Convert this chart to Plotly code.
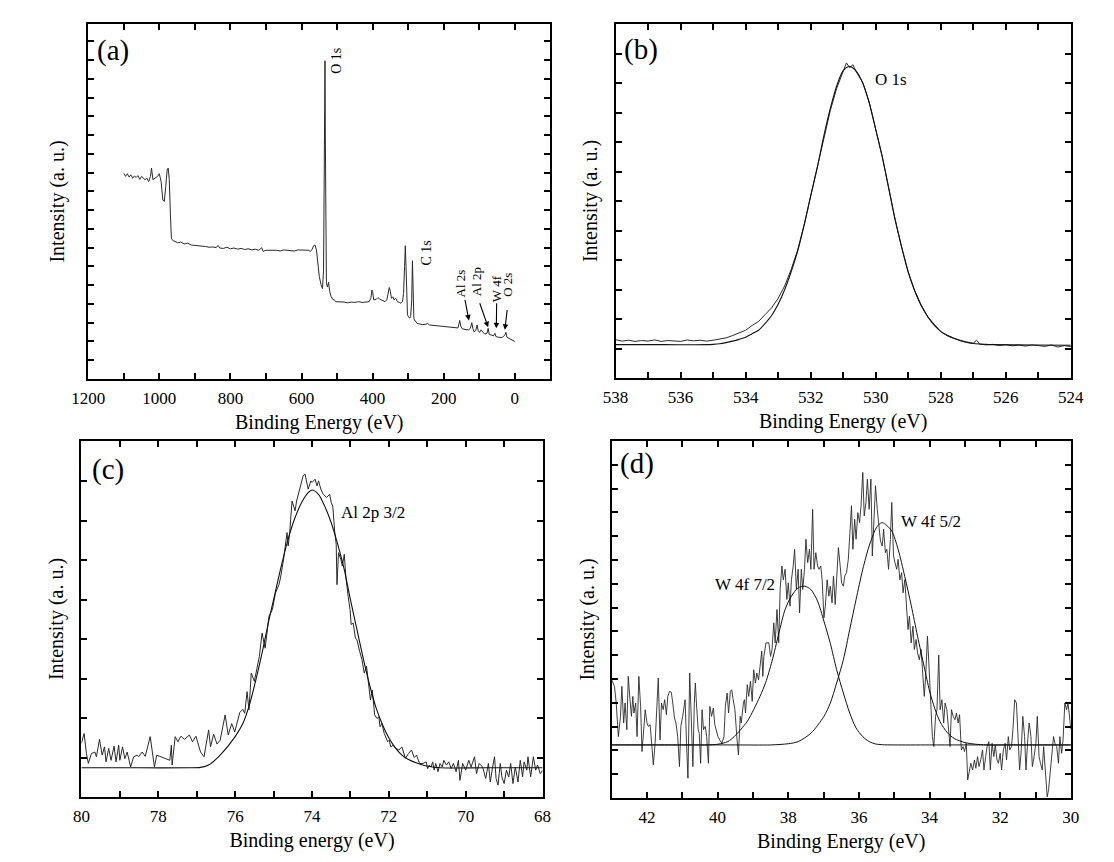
import plotly.graph_objects as go

FONT = "Liberation Serif"

# ---------------- (a) survey spectrum ----------------
a_energy = [1100, 1095, 1090, 1085, 1080, 1075, 1070, 1065, 1060, 1055,
            1050, 1045, 1040, 1035, 1030, 1025, 1022, 1018, 1012, 1005,
            1000, 995, 990, 986, 982, 978, 975, 972, 969, 966,
            962, 955, 948, 940, 930, 920, 910, 900, 890, 880,
            870, 860, 850, 840, 835, 830, 820, 810, 800, 790,
            780, 770, 760, 750, 740, 730, 720, 712, 708, 700,
            690, 680, 670, 660, 650, 640, 630, 620, 610, 600,
            590, 580, 575, 570, 566, 562, 558, 554, 550, 545,
            541, 538, 536, 535, 534, 533, 532, 530, 527, 524,
            521, 517, 512, 508, 504, 500, 490, 480, 470, 460,
            450, 440, 430, 420, 410, 405, 402, 400, 397, 390,
            385, 380, 375, 370, 365, 360, 356, 353, 350, 347,
            343, 340, 335, 330, 325, 320, 316, 313, 310, 308,
            306, 304, 302, 299, 296, 293, 290, 288, 286, 284,
            281, 278, 275, 270, 260, 250, 245, 240, 230, 220,
            210, 200, 190, 180, 170, 160, 157, 155, 152, 148,
            140, 130, 125, 121, 118, 115, 110, 106, 103, 99,
            95, 90, 85, 78, 75, 72, 65, 60, 56, 53,
            45, 35, 28, 25, 22, 15, 8, 3, 0]
a_intensity = [5.48, 5.40, 5.47, 5.38, 5.44, 5.35, 5.41, 5.37, 5.42, 5.32,
               5.40, 5.34, 5.31, 5.35, 5.26, 5.40, 5.62, 5.31, 5.35, 5.40,
               5.47, 5.26, 4.77, 4.73, 5.13, 5.57, 5.62, 5.31, 4.42, 3.75,
               3.69, 3.66, 3.63, 3.65, 3.60, 3.62, 3.57, 3.56, 3.55, 3.55,
               3.53, 3.51, 3.52, 3.50, 3.56, 3.49, 3.48, 3.51, 3.47, 3.49,
               3.46, 3.48, 3.45, 3.47, 3.44, 3.46, 3.43, 3.50, 3.40, 3.43,
               3.44, 3.43, 3.43, 3.41, 3.44, 3.43, 3.43, 3.41, 3.44, 3.43,
               3.44, 3.43, 3.40, 3.46, 3.55, 3.57, 3.44, 3.08, 2.73, 2.51,
               2.41, 2.90, 5.70, 7.90, 8.48, 6.50, 3.50, 2.55, 2.45, 2.58,
               2.35, 2.20, 2.12, 2.11, 2.06, 2.06, 2.04, 2.05, 2.03, 2.05,
               2.04, 2.06, 2.04, 2.05, 2.06, 2.15, 2.37, 2.33, 2.11, 2.12,
               2.17, 2.13, 2.11, 2.08, 2.06, 2.11, 2.28, 2.44, 2.33, 2.15,
               2.19, 2.11, 2.15, 2.06, 2.04, 2.02, 2.06, 2.28, 3.00, 3.55,
               3.00, 1.93, 1.71, 1.66, 1.62, 1.66, 2.11, 3.15, 2.55, 1.62,
               1.55, 1.53, 1.48, 1.47, 1.45, 1.46, 1.48, 1.44, 1.43, 1.42,
               1.41, 1.40, 1.39, 1.38, 1.37, 1.36, 1.47, 1.56, 1.41, 1.34,
               1.32, 1.31, 1.35, 1.50, 1.35, 1.26, 1.29, 1.44, 1.29, 1.24,
               1.31, 1.26, 1.20, 1.22, 1.35, 1.19, 1.17, 1.15, 1.22, 1.13,
               1.11, 1.11, 1.17, 1.24, 1.11, 1.08, 1.04, 1.02, 1.00]

a_labels = ["O 1s", "C 1s", "Al 2s", "Al 2p", "W 4f", "O 2s"]
a_label_x = [500, 249, 154, 107, 53, 19]
a_label_y = [8.48, 3.35, 2.55, 2.60, 2.42, 2.51]
a_arrow_tail_x = [141, 100, 51, 21]
a_arrow_tail_y = [2.15, 2.06, 2.06, 1.88]
a_arrow_head_x = [129, 75, 52, 28]
a_arrow_head_y = [1.56, 1.38, 1.35, 1.31]

# ---------------- (b) O 1s ----------------
b_energy = [538.0, 537.8, 537.6, 537.4, 537.2, 537.0, 536.8, 536.6, 536.4, 536.2,
            536.0, 535.8, 535.6, 535.4, 535.2, 535.0, 534.8, 534.6, 534.4, 534.2,
            534.0, 533.8, 533.6, 533.4, 533.2, 533.0, 532.8, 532.6, 532.4, 532.2,
            532.0, 531.8, 531.6, 531.4, 531.2, 531.0, 530.9, 530.8, 530.7, 530.6,
            530.4, 530.2, 530.0, 529.8, 529.6, 529.4, 529.2, 529.0, 528.8, 528.6,
            528.4, 528.2, 528.0, 527.8, 527.6, 527.4, 527.2, 527.0, 526.9, 526.8,
            526.6, 526.4, 526.2, 526.0, 525.8, 525.6, 525.4, 525.2, 525.0, 524.8,
            524.6, 524.4, 524.2, 524.0]
b_intensity = [1.30, 1.25, 1.28, 1.24, 1.27, 1.25, 1.29, 1.24, 1.27, 1.26,
               1.24, 1.29, 1.26, 1.28, 1.25, 1.28, 1.32, 1.36, 1.44, 1.52,
               1.62, 1.78, 1.92, 2.15, 2.38, 2.70, 3.12, 3.68, 4.34, 5.20,
               6.15, 7.05, 8.05, 9.05, 9.82, 10.38, 10.68, 10.52, 10.62, 10.38,
               10.02, 9.35, 8.45, 7.50, 6.45, 5.36, 4.42, 3.60, 2.96, 2.47,
               2.07, 1.80, 1.57, 1.43, 1.34, 1.26, 1.20, 1.18, 1.28, 1.15,
               1.12, 1.14, 1.10, 1.13, 1.09, 1.12, 1.08, 1.12, 1.10, 1.07,
               1.12, 1.05, 1.10, 1.06]
b_fit_energy = [538.0, 536.5, 535.2, 535.0, 534.8, 534.6, 534.4, 534.2, 534.0, 533.8,
                533.6, 533.4, 533.2, 533.0, 532.8, 532.6, 532.4, 532.2, 532.0, 531.8,
                531.6, 531.4, 531.2, 531.0, 530.8, 530.6, 530.4, 530.2, 530.0, 529.8,
                529.6, 529.4, 529.2, 529.0, 528.8, 528.6, 528.4, 528.2, 528.0, 527.8,
                527.6, 527.4, 527.2, 527.0, 526.8, 526.6, 526.4, 525.2, 524.0]
b_fit = [1.13, 1.13, 1.13, 1.14, 1.16, 1.20, 1.25, 1.31, 1.38, 1.50,
         1.62, 1.85, 2.12, 2.50, 2.99, 3.60, 4.30, 5.18, 6.17, 7.12,
         8.18, 9.12, 9.90, 10.42, 10.56, 10.40, 10.00, 9.33, 8.43, 7.51,
         6.43, 5.35, 4.43, 3.58, 2.95, 2.45, 2.08, 1.79, 1.58, 1.45,
         1.35, 1.28, 1.22, 1.17, 1.15, 1.14, 1.13, 1.12, 1.11]

# ---------------- (c) Al 2p ----------------
c_energy = [80.0, 79.93, 79.87, 79.82, 79.74, 79.65, 79.61, 79.53, 79.46, 79.40,
            79.36, 79.29, 79.23, 79.15, 79.10, 79.03, 79.0, 78.93, 78.87, 78.81,
            78.72, 78.64, 78.55, 78.51, 78.42, 78.34, 78.21, 78.10, 78.04, 77.92,
            77.81, 77.70, 77.66, 77.64, 77.56, 77.49, 77.41, 77.32, 77.19, 77.11,
            77.02, 76.90, 76.81, 76.69, 76.64, 76.56, 76.47, 76.39, 76.26, 76.18,
            76.09, 76.01, 75.88, 75.80, 75.75, 75.69, 75.64, 75.58, 75.50, 75.37,
            75.30, 75.22, 75.12, 75.03, 74.95, 74.86, 74.82, 74.74, 74.65, 74.62,
            74.58, 74.52, 74.44, 74.40, 74.23, 74.18, 74.10, 74.03,
            74.0, 73.92, 73.87, 73.83, 73.77, 73.71, 73.62, 73.54, 73.50, 73.46,
            73.41, 73.37, 73.35, 73.31, 73.25, 73.21, 73.16, 73.12, 73.06, 73.01,
            72.98, 72.93, 72.87, 72.83, 72.76, 72.70, 72.64, 72.58, 72.54, 72.48,
            72.43, 72.37, 72.31, 72.26, 72.23, 72.18, 72.12, 72.08, 72.03, 71.99,
            71.95, 71.89, 71.82, 71.74, 71.66, 71.57, 71.53, 71.49, 71.41, 71.34,
            71.28, 71.20, 71.11, 71.03, 70.99, 70.95, 70.90, 70.86, 70.82, 70.78,
            70.72, 70.67, 70.61, 70.57, 70.50, 70.44, 70.38, 70.32, 70.25, 70.19,
            70.15, 70.08, 70.0, 69.92, 69.86, 69.77, 69.72, 69.65, 69.56, 69.48,
            69.41, 69.36, 69.30, 69.25, 69.21, 69.16, 69.10, 69.06, 69.0, 68.94,
            68.88, 68.83, 68.77, 68.71, 68.64, 68.58, 68.52, 68.48, 68.41, 68.38,
            68.31, 68.24, 68.18, 68.13, 68.06, 68.0]
c_intensity = [1.36, 1.61, 1.10, 0.85, 1.10, 1.14, 1.02, 1.46, 1.06, 1.27,
               0.89, 1.23, 0.93, 1.29, 0.89, 1.31, 0.93, 1.27, 0.97, 1.14,
               0.76, 1.02, 1.06, 1.02, 1.14, 1.03, 1.53, 0.76, 1.06, 1.02,
               0.98, 0.93, 1.31, 0.81, 1.53, 1.40, 1.54, 1.46, 1.57, 1.40,
               1.54, 1.14, 1.02, 1.70, 1.27, 1.59, 1.34, 1.44, 2.08, 1.57,
               1.86, 1.65, 2.14, 2.22, 2.12, 2.67, 2.21, 3.14, 2.93, 3.56,
               4.15, 3.77, 4.58, 4.75, 5.17, 5.38, 5.55, 6.02, 6.70, 6.36,
               6.70, 7.50, 7.25, 7.50, 8.14, 8.18, 7.80, 8.01,
               7.97, 8.05, 7.88, 8.01, 7.80, 7.67, 7.59, 7.67, 7.46, 7.37,
               6.74, 6.40, 5.38, 6.19, 6.02, 5.85, 6.15, 5.59, 5.09, 4.75,
               4.37, 4.41, 4.03, 3.98, 3.69, 3.48, 3.14, 3.31, 2.97, 2.46,
               2.71, 2.08, 1.99, 2.03, 1.78, 1.86, 1.61, 1.53, 1.40, 1.44,
               1.27, 1.31, 1.23, 1.19, 1.27, 0.98, 1.06, 1.10, 1.19, 1.00,
               1.06, 0.85, 0.85, 0.89, 0.72, 0.81, 0.76, 0.89, 0.68, 0.85,
               0.64, 0.85, 0.76, 0.93, 0.81, 0.89, 0.72, 0.85, 0.64, 0.93,
               0.42, 0.85, 0.68, 0.93, 0.76, 1.02, 0.59, 0.85, 0.76, 0.47,
               0.85, 0.38, 0.76, 1.02, 0.47, 0.30, 0.85, 0.51, 0.34, 0.68,
               0.51, 0.85, 0.34, 0.76, 0.38, 0.93, 0.51, 0.89, 0.68, 1.02,
               0.51, 1.02, 0.68, 0.81, 0.59, 0.68]
c_fit_energy = [80.0, 78.5, 77.2, 76.9, 76.69, 76.39, 76.0, 75.80, 75.63, 75.46,
                75.29, 75.12, 74.95, 74.78, 74.61, 74.44, 74.27, 74.10, 74.0, 73.83,
                73.67, 73.50, 73.33, 73.16, 73.0, 72.83, 72.66, 72.49, 72.33, 72.16,
                71.99, 71.82, 71.66, 71.49, 71.24, 70.99, 70.65, 69.5, 68.0]
c_fit = [0.74, 0.74, 0.74, 0.75, 0.81, 1.06, 1.53, 1.86, 2.33, 2.97,
         3.69, 4.49, 5.21, 5.93, 6.57, 7.08, 7.46, 7.71, 7.78, 7.67,
         7.37, 6.95, 6.40, 5.76, 5.00, 4.24, 3.48, 2.80, 2.25, 1.82,
         1.48, 1.23, 1.06, 0.95, 0.85, 0.78, 0.74, 0.74, 0.74]

# ---------------- (d) W 4f ----------------
d_energy = [43.0, 42.92, 42.87, 42.81, 42.75, 42.71, 42.66, 42.62, 42.57, 42.53,
            42.48, 42.44, 42.40, 42.37, 42.32, 42.28, 42.23, 42.18, 42.14, 42.09,
            42.05, 42.00, 41.96, 41.91, 41.86, 41.82, 41.77, 41.73, 41.68, 41.63,
            41.59, 41.54, 41.50, 41.45, 41.41, 41.36, 41.31, 41.27, 41.22, 41.18,
            41.13, 41.08, 41.04, 40.99, 40.95, 40.92, 40.88, 40.84, 40.79, 40.75,
            40.70, 40.66, 40.63, 40.60, 40.55, 40.52, 40.48, 40.44, 40.40, 40.35,
            40.31, 40.26, 40.22, 40.17, 40.12, 40.08, 40.03, 39.99, 39.94, 39.88,
            39.82, 39.78, 39.73, 39.69, 39.64, 39.60, 39.56, 39.51, 39.45, 39.41,
            39.36, 39.33, 39.27, 39.24, 39.21, 39.16, 39.12, 39.07, 39.02, 38.98,
            38.93, 38.89, 38.84, 38.80, 38.75, 38.72, 38.69, 38.63,
            38.55, 38.50, 38.46, 38.41, 38.37, 38.32, 38.27, 38.23, 38.18, 38.14,
            38.09, 38.04, 38.00, 37.95, 37.91, 37.86, 37.82, 37.77, 37.72, 37.68,
            37.63, 37.59, 37.54, 37.50, 37.45, 37.40, 37.36, 37.31, 37.27, 37.22,
            37.17, 37.13, 37.08, 37.04, 36.99, 36.95, 36.90, 36.85, 36.81, 36.76,
            36.72, 36.67, 36.63, 36.58, 36.53, 36.49, 36.44, 36.40, 36.35, 36.30,
            36.26, 36.21, 36.17, 36.12, 36.08, 36.03, 35.98, 35.94, 35.89, 35.85,
            35.80, 35.76, 35.71, 35.66, 35.62, 35.57, 35.53, 35.48, 35.43, 35.39,
            35.34, 35.30, 35.25, 35.21, 35.16, 35.11, 35.07, 35.02, 34.98, 34.93,
            34.89, 34.84, 34.79, 34.75, 34.70, 34.66, 34.61, 34.57, 34.52, 34.47,
            34.43, 34.38, 34.34, 34.29, 34.24, 34.20, 34.15, 34.11,
            34.06, 34.02, 33.97, 33.92, 33.88, 33.83, 33.79, 33.74, 33.70, 33.65,
            33.60, 33.56, 33.51, 33.47, 33.42, 33.38, 33.33, 33.28, 33.24, 33.19,
            33.15, 33.10, 33.05, 33.01, 32.96, 32.92, 32.87, 32.83, 32.78, 32.73,
            32.69, 32.64, 32.60, 32.55, 32.50, 32.46, 32.41, 32.37, 32.32, 32.28,
            32.23, 32.18, 32.14, 32.09, 32.05, 32.00, 31.96, 31.91, 31.86, 31.82,
            31.77, 31.73, 31.68, 31.64, 31.59, 31.54, 31.50, 31.45, 31.41, 31.36,
            31.31, 31.27, 31.22, 31.18, 31.13, 31.09, 31.04, 30.99, 30.95, 30.90,
            30.86, 30.81, 30.77, 30.72, 30.67, 30.63, 30.58, 30.54, 30.49, 30.45,
            30.40, 30.35, 30.31, 30.26, 30.22, 30.17, 30.12, 30.08, 30.0]
d_intensity = [4.97, 4.69, 3.99, 2.58, 3.43, 4.69, 3.15, 3.99, 2.87, 5.11,
               4.13, 3.43, 4.27, 3.57, 3.99, 2.58, 5.11, 3.85, 1.95, 3.15,
               3.71, 3.15, 3.01, 3.08, 2.16, 1.39, 2.30, 3.71, 5.04, 2.44,
               3.99, 3.71, 4.13, 3.50, 4.27, 4.48, 4.44, 3.99, 3.36, 3.15,
               2.58, 1.32, 3.01, 3.43, 3.99, 4.13, 2.30, 0.83, 5.25, 3.01,
               1.32, 3.99, 4.83, 3.99, 2.87, 2.72, 1.46, 3.71, 2.87, 3.01,
               2.58, 1.46, 3.85, 3.43, 3.78, 3.08, 2.72, 2.58, 2.44, 2.30,
               2.58, 3.85, 4.41, 3.57, 4.48, 4.55, 4.13, 3.71, 2.44, 1.81,
               3.43, 3.15, 3.99, 4.13, 3.57, 4.76, 4.27, 4.90, 4.06, 5.39,
               4.83, 5.25, 4.97, 5.53, 6.17, 5.11, 5.95, 6.52,
               6.52, 5.95, 6.24, 7.36, 6.52, 7.92, 6.52, 8.76, 9.75, 9.17,
               9.61, 8.34, 9.04, 8.06, 9.17, 9.75, 10.45, 8.76, 9.61, 7.78,
               9.61, 8.76, 9.61, 10.87, 9.89, 10.45, 9.61, 12.13, 9.61, 10.31,
               9.75, 9.61, 9.75, 9.17, 7.57, 8.06, 9.17, 8.48, 8.90, 8.20,
               9.33, 8.13, 9.17, 10.52, 9.75, 9.04, 8.90, 9.33, 9.47, 10.03,
               11.01, 12.28, 10.45, 11.71, 10.87, 11.99, 11.57, 12.28, 13.68, 11.85,
               12.42, 13.40, 12.13, 13.40, 10.17, 12.28, 13.12, 12.13, 11.43, 10.80,
               10.59, 11.29, 10.31, 10.45, 9.61, 10.87, 12.42, 10.17, 9.89, 9.61,
               10.03, 9.17, 9.47, 8.62, 9.17, 8.20, 7.08, 7.64, 6.52, 7.22,
               6.24, 6.66, 6.10, 5.81, 6.24, 5.39, 4.27, 5.11,
               6.80, 5.67, 4.13, 2.58, 2.16, 3.43, 3.71, 6.01, 3.71, 4.13,
               3.15, 3.99, 3.71, 3.15, 2.16, 3.71, 3.43, 3.29, 3.57, 3.15,
               3.50, 2.02, 2.16, 1.95, 2.30, 0.76, 1.18, 1.46, 1.18, 1.60,
               1.25, 1.74, 1.32, 1.60, 2.02, 1.18, 1.74, 2.16, 2.37, 1.18,
               2.30, 1.74, 2.23, 1.60, 1.46, 1.88, 1.18, 2.02, 2.30, 1.60,
               2.58, 2.02, 2.16, 2.87, 4.13, 3.99, 2.72, 1.18, 1.88, 3.43,
               2.58, 1.18, 2.44, 3.15, 2.58, 1.32, 1.74, 2.30, 3.43, 1.74,
               1.46, 1.18, 2.16, 1.18, 0.05, 0.34, 1.18, 1.74, 2.58, 2.30,
               2.16, 1.46, 2.58, 1.88, 2.44, 3.99, 3.71, 3.99, 2.90]
d_fit1_energy = [43.0, 41.5, 40.6, 40.3, 39.99, 39.71, 39.53, 39.35, 39.16, 38.98,
                 38.80, 38.64, 38.46, 38.27, 38.09, 37.91, 37.72, 37.54, 37.36, 37.17,
                 36.99, 36.81, 36.63, 36.44, 36.26, 36.08, 35.89, 35.71, 35.53, 35.34,
                 35.0, 34.0, 32.0, 30.0]
d_fit1 = [2.23, 2.23, 2.23, 2.23, 2.26, 2.37, 2.58, 2.87, 3.22, 3.71,
          4.27, 4.85, 5.75, 6.90, 7.92, 8.48, 8.83, 8.90, 8.76, 8.27,
          7.43, 6.50, 5.39, 4.41, 3.57, 2.94, 2.58, 2.37, 2.27, 2.24,
          2.23, 2.23, 2.23, 2.23]
d_fit2_energy = [43.0, 41.0, 39.5, 38.5, 38.0, 37.72, 37.36, 36.99, 36.81, 36.63,
                 36.44, 36.26, 36.08, 35.89, 35.71, 35.53, 35.43, 35.34, 35.25, 35.07,
                 34.89, 34.70, 34.52, 34.34, 34.15, 34.0, 33.85, 33.7, 33.5, 33.3,
                 33.0, 32.7, 32.4, 31.8, 31.0, 30.0]
d_fit2 = [2.23, 2.23, 2.23, 2.23, 2.28, 2.37, 2.72, 3.43, 3.99, 4.83,
          5.81, 7.08, 8.34, 9.61, 10.59, 11.29, 11.50, 11.57, 11.50, 11.22,
          10.45, 9.30, 8.10, 6.80, 5.50, 4.50, 3.75, 3.20, 2.75, 2.50,
          2.33, 2.26, 2.23, 2.23, 2.23, 2.23]

for xs, ys in [(a_energy, a_intensity), (b_energy, b_intensity), (b_fit_energy, b_fit),
               (c_energy, c_intensity), (c_fit_energy, c_fit), (d_energy, d_intensity),
               (d_fit1_energy, d_fit1), (d_fit2_energy, d_fit2)]:
    assert len(xs) == len(ys), (len(xs), len(ys))

# ---------------- figure ----------------
# The page body keeps its default 8 px margin, so the figure is 8 px smaller
# than the window on each axis and fills it exactly.
W, H, OFF = 1106, 854, 8


def dom_x(left, right):
    return [(left - OFF) / W, (right - OFF) / W]


def dom_y(top, bottom):
    return [(OFF + H - bottom) / H, (OFF + H - top) / H]


fig = go.Figure()
DATA_COLOR = "#2a2a2a"
FIT_COLOR = "#111111"


def add_line(x, y, ax, width=1.0, color=DATA_COLOR, spline=False):
    fig.add_trace(go.Scatter(
        x=x, y=y, mode="lines", xaxis="x" + ax, yaxis="y" + ax,
        line=dict(color=color, width=width, shape="spline" if spline else "linear",
                  smoothing=0.8 if spline else None),
        showlegend=False, hoverinfo="skip"))


add_line(a_energy, a_intensity, "", width=1.0)
add_line(b_energy, b_intensity, "2", width=1.0)
add_line(b_fit_energy, b_fit, "2", width=1.1, color=FIT_COLOR, spline=True)
add_line(c_energy, c_intensity, "3", width=1.0)
add_line(c_fit_energy, c_fit, "3", width=1.1, color=FIT_COLOR, spline=True)
add_line(d_energy, d_intensity, "4", width=0.9)
add_line(d_fit1_energy, d_fit1, "4", width=1.0, color=FIT_COLOR, spline=True)
add_line(d_fit2_energy, d_fit2, "4", width=1.0, color=FIT_COLOR, spline=True)

TICK = dict(ticks="inside", ticklen=6, tickwidth=1.5, tickcolor="black")


def xaxis(domain, rng, anchor, title, dtick=2, minor=1):
    return dict(domain=domain, range=rng, anchor=anchor, dtick=dtick, tick0=0,
                showline=True, linecolor="black", linewidth=2, mirror="ticks",
                showgrid=False, zeroline=False, **TICK, ticklabelstandoff=3,
                tickfont=dict(family=FONT, size=17, color="black"),
                title=dict(text=title, font=dict(family=FONT, size=20, color="black"), standoff=8),
                minor=dict(dtick=minor, showgrid=False, **TICK))


def yaxis(domain, rng, anchor, dtick=1, standoff=10):
    return dict(domain=domain, range=rng, anchor=anchor, dtick=dtick, tick0=0,
                showline=True, linecolor="black", linewidth=2, mirror="ticks",
                showgrid=False, zeroline=False, showticklabels=False, **TICK,
                title=dict(text="Intensity (a. u.)", font=dict(family=FONT, size=20, color="black"),
                           standoff=standoff))


fig.update_layout(
    width=W, height=H,
    margin=dict(l=0, r=0, t=0, b=0),
    paper_bgcolor="white", plot_bgcolor="white",
    font=dict(family=FONT, color="black"),
    xaxis=xaxis(dom_x(73, 548), [1200, -100], "y", "Binding Energy (eV)", dtick=200, minor=100),
    yaxis=yaxis(dom_y(24, 379), [0, 9.46], "x", dtick=0.5, standoff=16),
    xaxis2=xaxis(dom_x(615, 1083), [538, 524], "y2", "Binding Energy (eV)"),
    yaxis2=yaxis(dom_y(24, 378), [0, 12], "x2", standoff=11),
    xaxis3=xaxis(dom_x(66, 540), [80, 68], "y3", "Binding energy (eV)"),
    yaxis3=yaxis(dom_y(441, 797), [0, 9.02], "x3", standoff=10),
    xaxis4=xaxis(dom_x(611, 1083), [43, 30], "y4", "Binding Energy (eV)"),
    yaxis4=yaxis(dom_y(441, 798), [0, 15], "x4", standoff=10),
)

ann = []
# panel letters
for letter, ax, fx, fy in [("(a)", "", 0.054, 0.925), ("(b)", "2", 0.056, 0.927),
                           ("(c)", "3", 0.058, 0.921), ("(d)", "4", 0.055, 0.938)]:
    ann.append(dict(text=letter, xref="x" + ax + " domain", yref="y" + ax + " domain",
                    x=fx, y=fy, showarrow=False, xanchor="center", yanchor="middle",
                    font=dict(family=FONT, size=29, color="black")))

# (a) rotated peak labels
for i, lab in enumerate(a_labels):
    ann.append(dict(text=lab, x=a_label_x[i], y=a_label_y[i], xref="x", yref="y",
                    showarrow=False, textangle=-90, xanchor="center", yanchor="middle",
                    font=dict(family=FONT, size=14 if i < 2 else 13, color="black")))
# (a) arrows
for i in range(len(a_arrow_tail_x)):
    ann.append(dict(text="", x=a_arrow_head_x[i], y=a_arrow_head_y[i], xref="x", yref="y",
                    ax=a_arrow_tail_x[i], ay=a_arrow_tail_y[i], axref="x", ayref="y",
                    showarrow=True, arrowhead=2, arrowsize=1, arrowwidth=1.1,
                    arrowcolor="black", standoff=0, startstandoff=0))

# peak labels in (b), (c), (d)
for text, ax, x, y in [("O 1s", "2", 529.54, 10.11), ("Al 2p 3/2", "3", 72.41, 7.2),
                       ("W 4f 7/2", "4", 39.23, 8.95), ("W 4f 5/2", "4", 33.97, 11.63)]:
    ann.append(dict(text=text, x=x, y=y, xref="x" + ax, yref="y" + ax, showarrow=False,
                    xanchor="center", yanchor="middle",
                    font=dict(family=FONT, size=17, color="black")))

fig.update_layout(annotations=ann)
fig.write_html("out.html")
